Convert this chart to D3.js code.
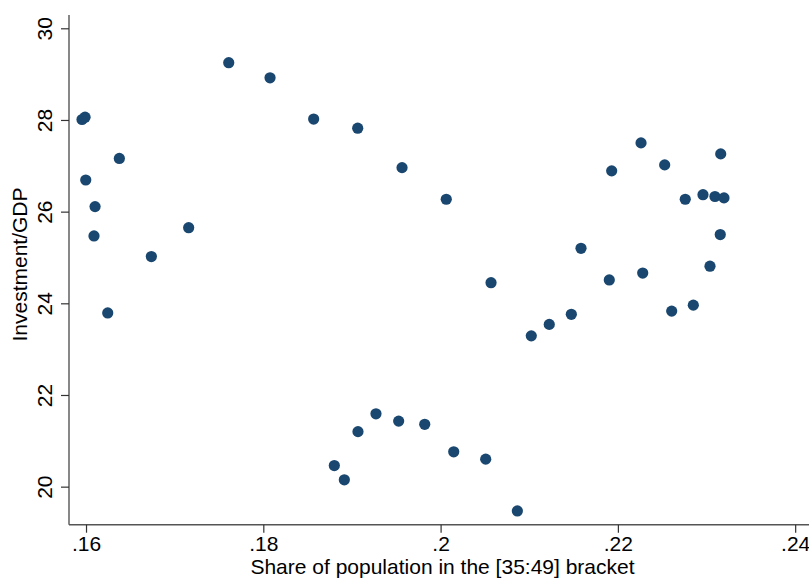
<!DOCTYPE html>
<html>
<head>
<meta charset="utf-8">
<script src="https://cdn.jsdelivr.net/npm/d3@7.9.0/dist/d3.min.js"></script>
<style>
  body { margin: 0; background: #fff; }
  svg { display: block; font-family: "Liberation Sans", Arial, sans-serif; }
</style>
</head>
<body>
<div id="chart"></div>
<script>
// share of population aged 35-49
const share = [
  .15955, .15989, .16376, .15997, .16102, .1609, .17158, .16737, .16245,
  .1761, .18076, .18568, .19065, .19565, .20064, .20569,
  .18801, .18914, .19068, .19271, .19527, .19821, .20148, .20509, .20866,
  .21023, .21226, .21475, .21584, .21903, .2193,
  .22261, .22528, .2316, .2276, .2296, .23095, .23197, .23155,
  .23039, .2228, .22851, .22607
];
// investment / GDP
const invest = [
  28.01, 28.06, 27.16, 26.69, 26.11, 25.47, 25.65, 25.02, 23.79,
  29.25, 28.92, 28.02, 27.82, 26.96, 26.27, 24.45,
  20.46, 20.15, 21.20, 21.59, 21.43, 21.36, 20.76, 20.60, 19.47,
  23.29, 23.54, 23.76, 25.20, 24.51, 26.89,
  27.50, 27.02, 27.26, 26.27, 26.37, 26.33, 26.30, 25.50,
  24.81, 24.66, 23.96, 23.83
];
const xTicks = [.16, .18, .2, .22, .24];
const yTicks = [20, 22, 24, 26, 28, 30];

const width = 809, height = 579;
const m = { left: 69, top: 15, bottom: 524.7, right: 809 };
const fs = 21;

const svg = d3.select('#chart').append('svg')
  .attr('width', width).attr('height', height);

const x = d3.scaleLinear().domain([.15808, .24156]).range([m.left, m.right]);
const y = d3.scaleLinear().domain([19.17, 30.29]).range([m.bottom, m.top]);

const fmt = d => String(d).replace(/^0/, '');

// x axis
const gx = svg.append('g').attr('transform', `translate(0,${m.bottom})`)
  .call(d3.axisBottom(x).tickValues(xTicks).tickSize(8).tickPadding(3).tickFormat(fmt));
gx.select('.domain').attr('d', `M${m.left},0H${m.right}`);

// y axis
const gy = svg.append('g').attr('transform', `translate(${m.left},0)`)
  .call(d3.axisLeft(y).tickValues(yTicks).tickSize(8).tickFormat(d => d));
gy.select('.domain').attr('d', `M0,${m.top}V${m.bottom}`);

svg.selectAll('.domain').attr('stroke', '#555').attr('stroke-width', 1.4);
svg.selectAll('.tick line').attr('stroke', '#333').attr('stroke-width', 1.2);
gx.selectAll('.tick text').attr('font-size', fs).attr('fill', '#000')
  .attr('font-family', '"Liberation Sans", Arial, sans-serif');
gy.selectAll('.tick text')
  .attr('font-size', fs).attr('fill', '#000')
  .attr('font-family', '"Liberation Sans", Arial, sans-serif')
  .attr('text-anchor', 'middle')
  .attr('x', null).attr('dy', null)
  .attr('transform', 'translate(-17,0) rotate(-90)');

// titles
svg.append('text')
  .attr('x', 442.5).attr('y', 574)
  .attr('text-anchor', 'middle').attr('font-size', fs)
  .text('Share of population in the [35:49] bracket');

svg.append('text')
  .attr('transform', `translate(27,264.5) rotate(-90)`)
  .attr('text-anchor', 'middle').attr('font-size', fs)
  .text('Investment/GDP');

// points
svg.append('g').selectAll('circle')
  .data(d3.zip(share, invest))
  .join('circle')
  .attr('cx', d => x(d[0]))
  .attr('cy', d => y(d[1]))
  .attr('r', 5.6)
  .attr('fill', '#1a476f');
</script>
</body>
</html>
